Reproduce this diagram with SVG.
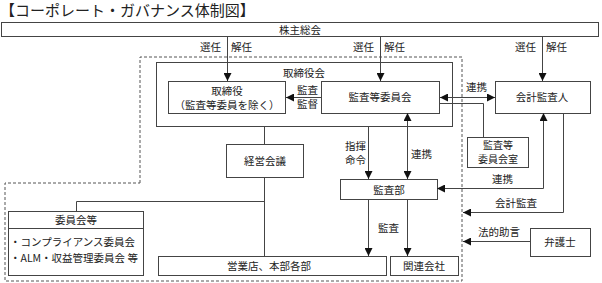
<svg xmlns="http://www.w3.org/2000/svg" width="602" height="283" viewBox="0 0 602 283">
<style>
text{font-family:"Noto Sans CJK JP","Liberation Serif",sans-serif;font-size:10.5px;fill:#222}
.box{fill:#fff;stroke:#444;stroke-width:1}
.ln{fill:none;stroke:#444;stroke-width:1}
.dash{fill:none;stroke:#555;stroke-width:1;stroke-dasharray:3,2}
.c{text-anchor:middle}
.sm{font-size:10px}
</style>
<defs>
<marker id="ah" viewBox="0 0 10 10" refX="10" refY="5" markerWidth="8" markerHeight="8" markerUnits="userSpaceOnUse" orient="auto-start-reverse"><path d="M0,0L10,5L0,10z" fill="#111"/></marker>
</defs>
<text x="0" y="16" style="font-size:15px">【コーポレート・ガバナンス体制図】</text>
<path class="dash" d="M140,183V57H462V281H5V183H140"/>
<g id="shareholders"><rect class="box" x="1.5" y="22.5" width="597" height="14"/><text class="c" x="300" y="33.5">株主総会</text></g>
<g id="board"><rect class="box" x="156.5" y="62.5" width="296" height="64"/><text class="c" x="304" y="77">取締役会</text></g>
<g id="directors"><rect class="box" x="168.5" y="81.5" width="117" height="32"/><text class="c" x="227" y="95">取締役</text><text class="c" x="227" y="109">（監査等委員を除く）</text></g>
<g id="audit-committee"><rect class="box" x="321.5" y="81.5" width="118" height="32"/><text class="c" x="380" y="101">監査等委員会</text></g>
<g id="accounting-auditor"><rect class="box" x="495.5" y="81.5" width="95" height="32"/><text class="c" x="542" y="101">会計監査人</text></g>
<g id="audit-office"><rect class="box" x="467.5" y="137.5" width="61" height="30"/><text class="c sm" x="498" y="149">監査等</text><text class="c sm" x="498" y="163">委員会室</text></g>
<g id="management"><rect class="box" x="226.5" y="144.5" width="77" height="33"/><text class="c" x="265" y="165">経営会議</text></g>
<g id="audit-dept"><rect class="box" x="340.5" y="179.5" width="97" height="20"/><text class="c" x="389" y="193.5">監査部</text></g>
<g id="committees"><rect class="box" x="8.5" y="211.5" width="135" height="64"/><line class="ln" x1="8.5" y1="228.5" x2="143.5" y2="228.5"/><text class="c" x="76" y="224">委員会等</text><text x="10" y="246">・コンプライアンス委員会</text><text x="10" y="262">・ALM・収益管理委員会 等</text></g>
<g id="branches"><rect class="box" x="158.5" y="256.5" width="228" height="19"/><text class="c" x="269" y="270">営業店、本部各部</text></g>
<g id="affiliates"><rect class="box" x="390.5" y="256.5" width="68" height="19"/><text class="c" x="424" y="270">関連会社</text></g>
<g id="lawyer"><rect class="box" x="530.5" y="228.5" width="60" height="28"/><text class="c" x="560" y="246">弁護士</text></g>
<g id="connectors">
<line class="ln" x1="227.5" y1="37" x2="227.5" y2="81" marker-end="url(#ah)"/>
<line class="ln" x1="380.5" y1="37" x2="380.5" y2="81" marker-end="url(#ah)"/>
<line class="ln" x1="542.5" y1="37" x2="542.5" y2="81" marker-end="url(#ah)"/>
<line class="ln" x1="321" y1="97.5" x2="286" y2="97.5" marker-end="url(#ah)"/>
<line class="ln" x1="440" y1="97.5" x2="495" y2="97.5" marker-start="url(#ah)" marker-end="url(#ah)"/>
<path class="ln" d="M440,103.5H483.5V137"/>
<line class="ln" x1="264.5" y1="127" x2="264.5" y2="144"/>
<path class="ln" d="M264.5,178V256M264.5,201.5H76.5V211"/>
<line class="ln" x1="368.5" y1="127" x2="368.5" y2="179" marker-end="url(#ah)"/>
<line class="ln" x1="407.5" y1="113" x2="407.5" y2="179" marker-start="url(#ah)" marker-end="url(#ah)"/>
<line class="ln" x1="368.5" y1="200" x2="368.5" y2="256" marker-end="url(#ah)"/>
<line class="ln" x1="407.5" y1="200" x2="407.5" y2="256" marker-end="url(#ah)"/>
<path class="ln" d="M543.5,113V188.5H437" marker-start="url(#ah)" marker-end="url(#ah)"/>
<path class="ln" d="M563.5,114V212.5H463" marker-end="url(#ah)"/>
<line class="ln" x1="530" y1="241.5" x2="463" y2="241.5" marker-end="url(#ah)"/>
</g>
<g id="labels">
<text x="200" y="51">選任</text><text x="231" y="51">解任</text>
<text x="353" y="51">選任</text><text x="384" y="51">解任</text>
<text x="515" y="51">選任</text><text x="546" y="51">解任</text>
<text x="297" y="94">監査</text><text x="297" y="108">監督</text>
<text x="466" y="91">連携</text>
<text x="345" y="150">指揮</text><text x="345" y="164">命令</text>
<text x="411" y="158">連携</text>
<text x="492" y="183">連携</text>
<text x="495" y="207">会計監査</text>
<text x="378" y="232">監査</text>
<text x="478" y="236">法的助言</text>
</g>
</svg>
